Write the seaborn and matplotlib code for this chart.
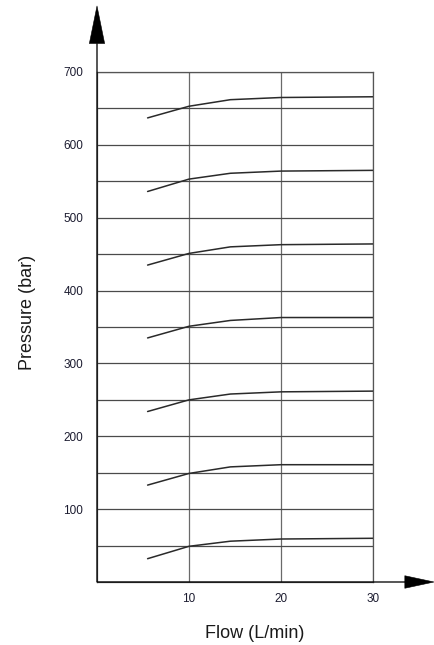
"""
Pressure vs flow curves for relief valve settings
"""

import numpy as np
import pandas as pd
import matplotlib.pyplot as plt
import seaborn as sns
from matplotlib.ticker import MultipleLocator

sns.set_style("white")
plt.rcParams["font.family"] = ["Liberation Sans", "DejaVu Sans"]

# flow points (L/min)
flow = [5.5, 10, 14.5, 20, 30]

# one pressure curve per setting (bar)
p_000 = [32, 49, 56, 59, 60]
p_100 = [133, 149, 158, 161, 161]
p_200 = [234, 250, 258, 261, 262]
p_300 = [335, 351, 359, 363, 363]
p_400 = [435, 451, 460, 463, 464]
p_500 = [536, 553, 561, 564, 565]
p_600 = [637, 653, 662, 665, 666]

curves = [p_000, p_100, p_200, p_300, p_400, p_500, p_600]

rows = []
for i, c in enumerate(curves):
    for f, p in zip(flow, c):
        rows.append({"curve": i, "flow": f, "pressure": p})
df = pd.DataFrame(rows)

W, H = 434, 645
fig = plt.figure(figsize=(W / 100, H / 100), dpi=100)
ax = fig.add_axes([97 / W, 1 - 582 / H, (373 - 97) / W, (582 - 72) / H])

sns.lineplot(
    data=df,
    x="flow",
    y="pressure",
    units="curve",
    estimator=None,
    color="#2a2a2a",
    linewidth=1.1,
    ax=ax
)

ax.set_xlim(0, 30)
ax.set_ylim(0, 700)
ax.set_xticks([10, 20, 30])
ax.yaxis.set_major_locator(MultipleLocator(100))
ax.yaxis.set_minor_locator(MultipleLocator(50))
ax.set_yticks(range(100, 701, 100))

ax.grid(True, which="both", axis="y", color="#4a4a4a", linewidth=0.9)
ax.grid(True, which="major", axis="x", color="#6a6a6a", linewidth=0.9)
ax.set_axisbelow(True)

for s in ax.spines.values():
    s.set_color("#555555")
    s.set_linewidth(0.9)

ax.tick_params(axis="both", which="both", length=0, labelsize=8.5,
               labelcolor="#1c1c30")
ax.tick_params(axis="y", pad=10)
ax.tick_params(axis="x", pad=8)

ax.set_xlabel("")
ax.set_ylabel("")

fig.text(255 / W, 1 - 633 / H, "Flow (L/min)", fontsize=13,
         ha="center", va="center", color="#1a1a1a")
fig.text(27 / W, 1 - 312 / H, "Pressure (bar)", fontsize=13,
         ha="center", va="center", rotation=90, color="#1a1a1a")

# axis arrows
ax.annotate("", xy=(97 / W, 1 - 6 / H), xytext=(97 / W, 1 - 582 / H),
            xycoords="figure fraction", textcoords="figure fraction",
            arrowprops=dict(facecolor="black", edgecolor="black",
                            width=0.3, headwidth=11, headlength=27,
                            linewidth=0.4, shrink=0))
ax.annotate("", xy=(434 / W, 1 - 582 / H), xytext=(97 / W, 1 - 582 / H),
            xycoords="figure fraction", textcoords="figure fraction",
            arrowprops=dict(facecolor="black", edgecolor="black",
                            width=0.3, headwidth=9, headlength=21,
                            linewidth=0.4, shrink=0))

fig.savefig("out.png", dpi=100)
